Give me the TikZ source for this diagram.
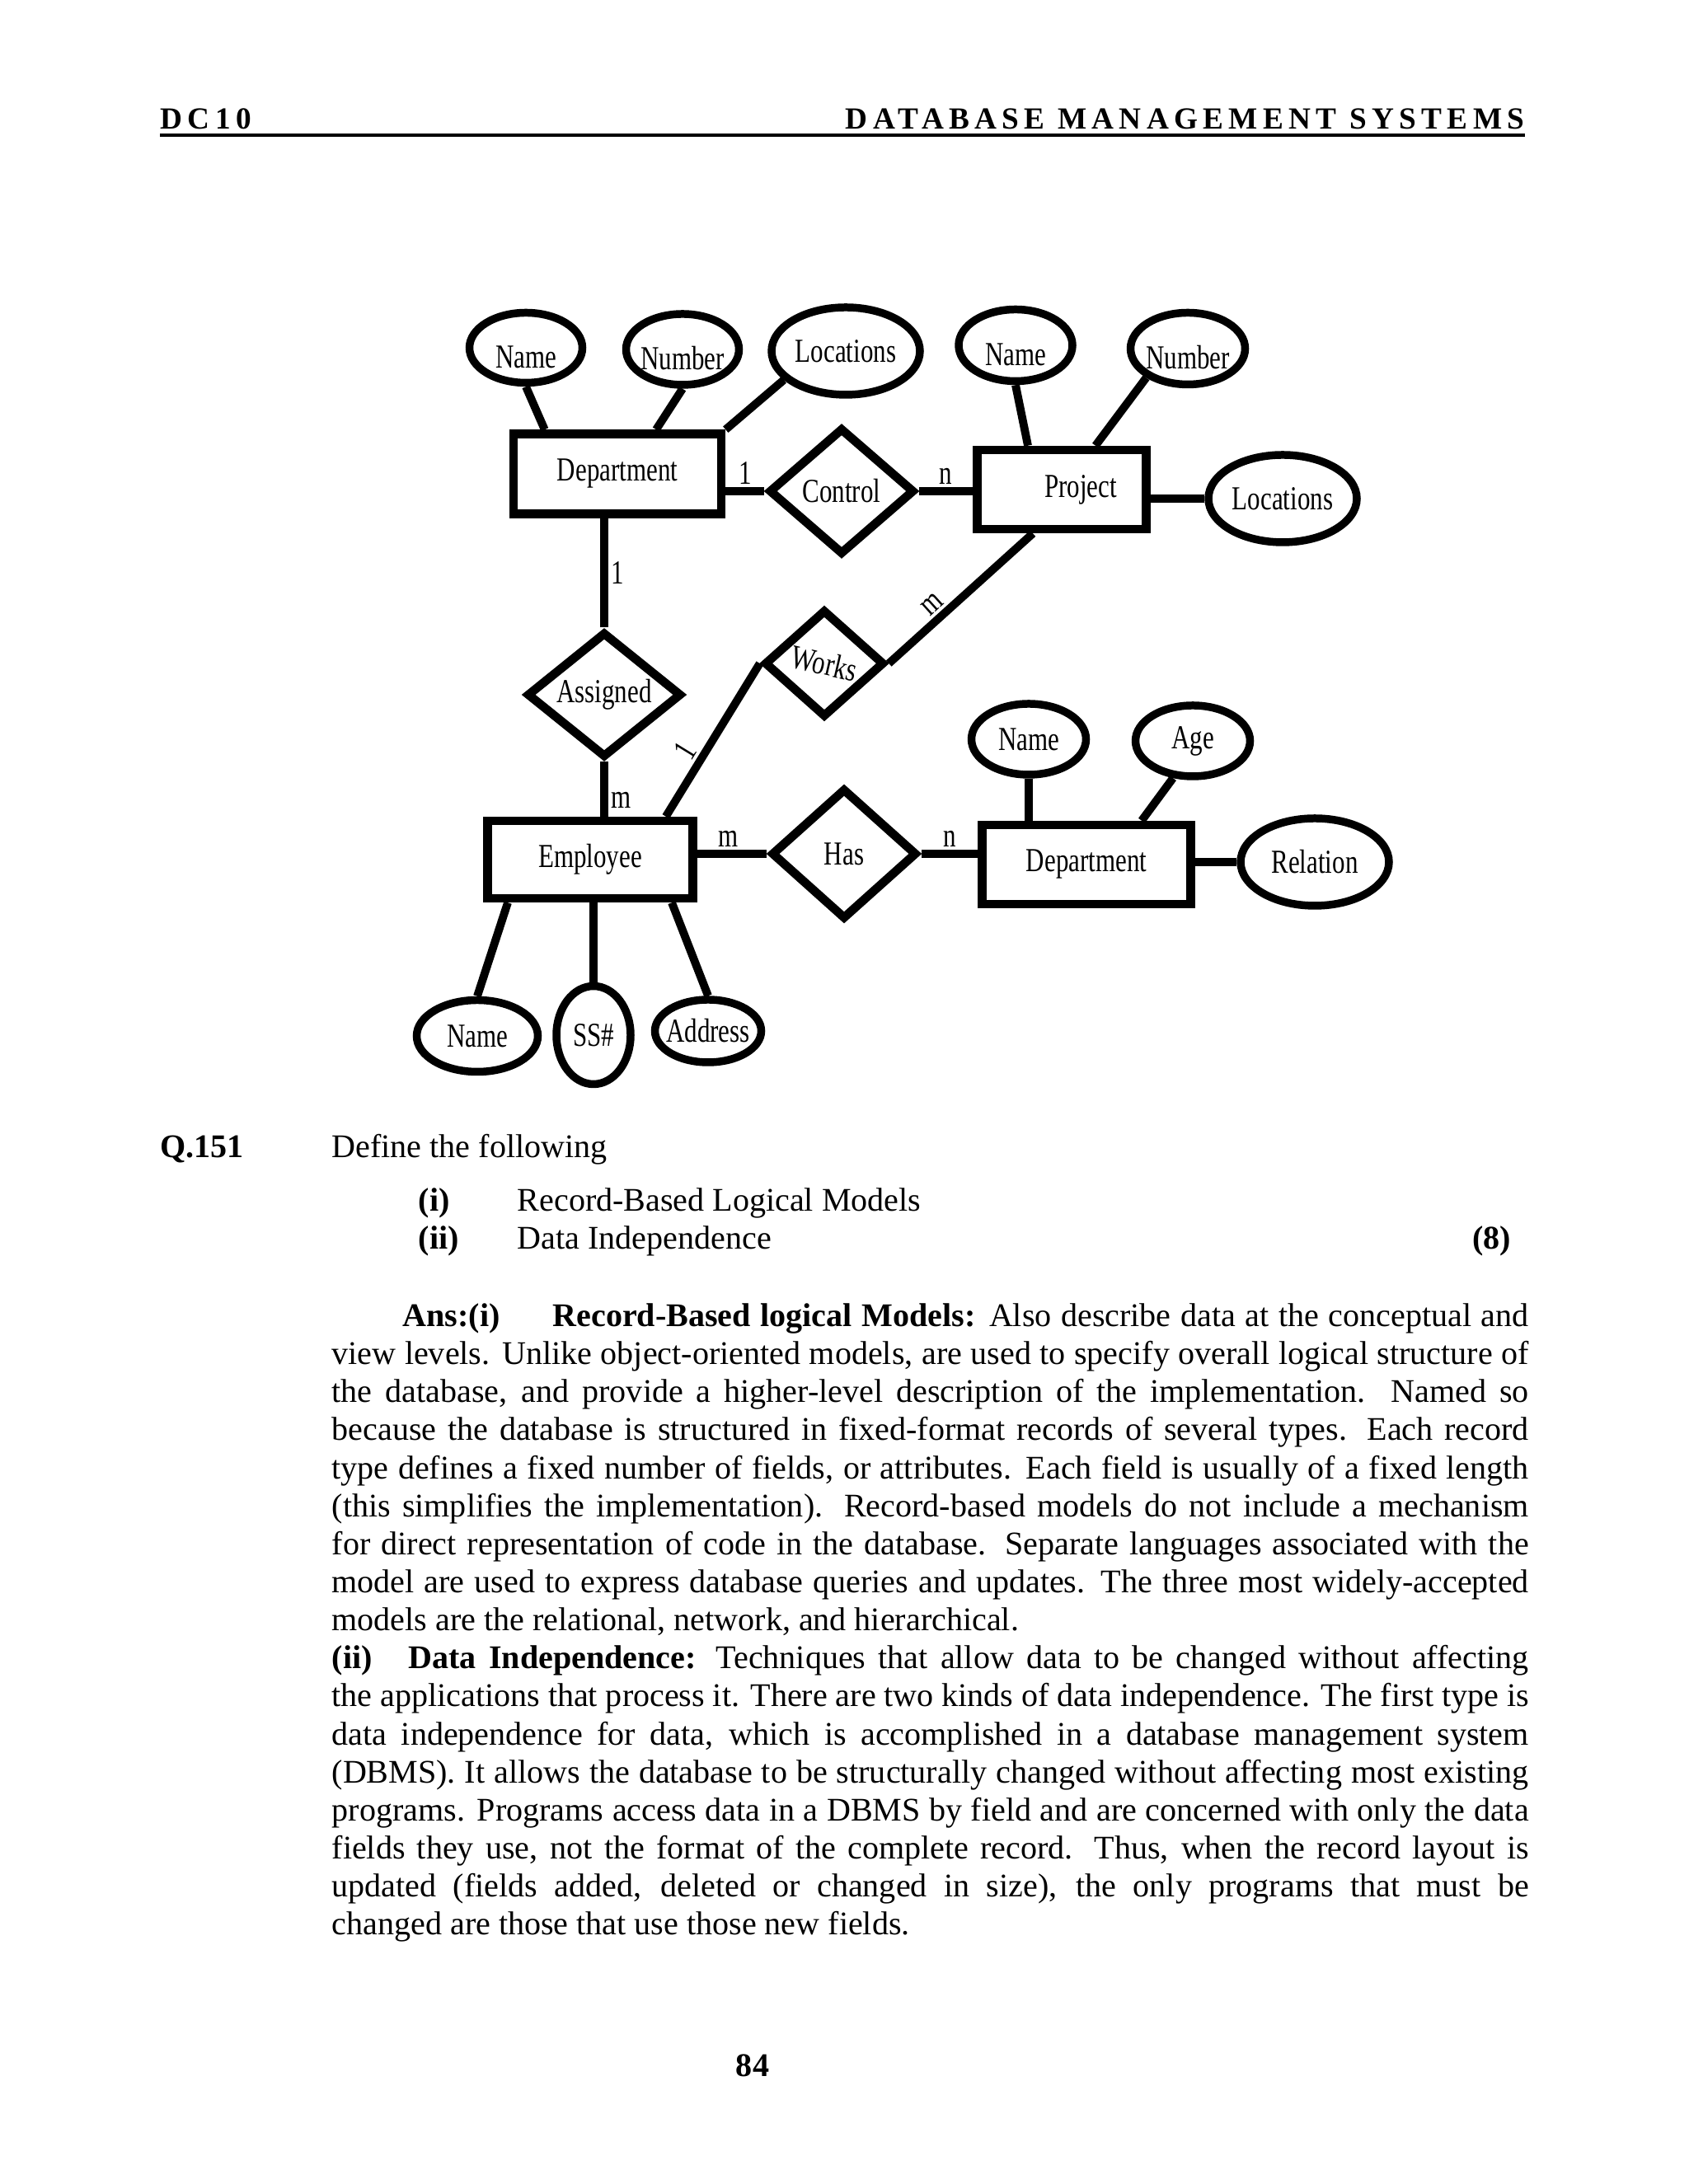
\documentclass[tikz,border=0pt]{standalone}
\usepackage{graphicx}
\usepackage{fontspec}
\setmainfont{Liberation Serif}
\newfontfamily\erfont[FakeStretch=0.76]{Liberation Serif}
\newfontfamily\headfont[LetterSpace=17]{Liberation Serif}
\usetikzlibrary{shapes.geometric,positioning}

\newlength\parwd
\setlength\parwd{14.52cm}
\newcommand\jline[1]{\hbox to\parwd{#1}}
\newcommand\lastline[1]{\hbox to\parwd{#1\hfil}}

\tikzset{
  erfont/.style={font=\erfont\fontsize{11.6}{13}\selectfont},
  entity/.style={draw,line width=3pt,inner sep=0pt,erfont},
  rel/.style={draw,diamond,line width=3pt,inner sep=0pt,erfont},
  attr/.style={draw,ellipse,line width=2.7pt,inner sep=0pt,inner xsep=-1.5mm,erfont},
  lowtext/.style={text height=5mm,text depth=0pt},
  link/.style={line width=2.8pt},
  card/.style={inner sep=1pt,erfont},
  body/.style={inner sep=0pt,font=\fontsize{11.4}{13.13}\selectfont},
  head/.style={inner sep=0pt,font=\headfont\bfseries\fontsize{10.6}{12}\selectfont},
}

\begin{document}
\begin{tikzpicture}
\fill[white] (0,0) rectangle (20.48,26.50);
\useasboundingbox (0,0) rectangle (20.48,26.50);

% page header
\node[head,anchor=base west] (hleft) at (1.94,24.93) {DC10};
\node[head,anchor=base east] (hright) at (18.50,24.93) {DATABASE MANAGEMENT SYSTEMS};
\draw[line width=1pt] (1.94,24.86) -- (18.50,24.86);

% entities
\node[entity,minimum width=2.52cm,minimum height=0.97cm] (dept) at (7.49,20.75) {Department};
\node[entity,minimum width=2.05cm,minimum height=0.96cm] (proj) at (12.88,20.56) {\hspace{4.6mm}Project};
\node[entity,minimum width=2.49cm,minimum height=0.94cm] (emp) at (7.16,16.07) {Employee};
\node[entity,minimum width=2.53cm,minimum height=0.96cm] (dept2) at (13.18,16.01) {Department};

% relationships
\node[rel,minimum width=1.77cm,minimum height=1.54cm] (ctrl) at (10.21,20.54) {Control};
\node[rel,minimum width=1.88cm,minimum height=1.50cm] (asgn) at (7.33,18.07) {Assigned};
\node[rel,minimum width=1.46cm,minimum height=1.27cm] (works) at (10.00,18.45) {\rotatebox{-13}{Works}};
\node[rel,minimum width=1.77cm,minimum height=1.59cm] (has) at (10.24,16.14) {Has};

% attributes
\node[attr,lowtext,minimum width=1.37cm,minimum height=0.85cm] (dname) at (6.38,22.28) {Name};
\node[attr,lowtext,minimum width=1.37cm,minimum height=0.86cm] (dnum) at (8.28,22.26) {Number};
\node[attr,minimum width=1.80cm,minimum height=1.06cm] (dloc) at (10.26,22.24) {Locations};
\node[attr,lowtext,minimum width=1.38cm,minimum height=0.87cm] (pname) at (12.32,22.31) {Name};
\node[attr,lowtext,minimum width=1.39cm,minimum height=0.87cm] (pnum) at (14.41,22.27) {Number};
\node[attr,minimum width=1.80cm,minimum height=1.06cm] (ploc) at (15.56,20.45) {Locations};
\node[attr,minimum width=1.39cm,minimum height=0.86cm] (d2name) at (12.48,17.53) {Name};
\node[attr,minimum width=1.39cm,minimum height=0.86cm] (d2age) at (14.47,17.51) {Age};
\node[attr,minimum width=1.80cm,minimum height=1.06cm] (d2rel) at (15.95,16.04) {Relation};
\node[attr,minimum width=1.47cm,minimum height=0.87cm] (ename) at (5.79,13.93) {Name};
\node[attr,minimum width=0.90cm,minimum height=1.19cm] (essn) at (7.20,13.94) {SS\#};
\node[attr,minimum width=1.29cm,minimum height=0.76cm] (eaddr) at (8.59,13.99) {Address};

% attribute links
\draw[link] (dname.south) -- ([xshift=4.3mm]dept.north west);
\draw[link] (dnum.south) -- ([xshift=4.7mm]dept.north);
\draw[link] (dloc.-155) -- (dept.north east);
\draw[link] (pname.south) -- ([xshift=-4.1mm]proj.north);
\draw[link] (pnum.-145) -- ([xshift=4.1mm]proj.north);
\draw[link] (ploc.west) -- (ploc.west -| proj.east);
\draw[link] (d2name.south) -- (d2name.south |- dept2.north);
\draw[link] (d2age.-118) -- ([xshift=6.7mm]dept2.north);
\draw[link] (d2rel.west) -- (d2rel.west -| dept2.east);
\draw[link] (ename.north) -- ([xshift=-10mm]emp.south);
\draw[link] (essn.north) -- (essn.north |- emp.south);
\draw[link] (eaddr.north) -- ([xshift=9.9mm]emp.south);

% relationship links
\draw[link] (ctrl.west) -- node[card,above] {1} (ctrl.west -| dept.east);
\draw[link] (ctrl.east) -- node[card,above] {n} (ctrl.east -| proj.west);
\draw[link] (asgn.north) -- node[card,right] {1} (asgn.north |- dept.south);
\draw[link] (asgn.south) -- node[card,right,pos=0.7] {m} (asgn.south |- emp.north);
\draw[link] (has.west) -- node[card,above,pos=0.55] {m} (has.west -| emp.east);
\draw[link] (has.east) -- node[card,above] {n} (has.east -| dept2.west);
\draw[link] (works.west) -- node[card,sloped,above,pos=0.63] {1} ([xshift=-3.8mm]emp.north east);
\draw[link] (works.east) -- node[card,sloped,above,pos=0.37] {m} ([xshift=-3.5mm]proj.south);

% question
\node[body,anchor=base west] (qno) at (1.94,12.45) {\textbf{Q.151}};
\node[body,anchor=base west] (qtxt) at (4.02,12.45) {Define the following};
\node[body,anchor=base west] (qi) at (5.07,11.80) {\textbf{(i)}};
\node[body,anchor=base west] (qitxt) at (6.27,11.80) {Record-Based Logical Models};
\node[body,anchor=base west] (qii) at (5.07,11.34) {\textbf{(ii)}};
\node[body,anchor=base west] (qiitxt) at (6.27,11.34) {Data Independence};
\node[body,anchor=base east] (marks) at (18.34,11.34) {\textbf{(8)}};

% answer
\node[body,anchor=north west,align=left] (ans) at (4.02,10.69) {%
\jline{\hspace{0.86cm}\textbf{Ans:(i)}\hskip0.64cm\textbf{Record-Based logical Models:} Also describe data at the conceptual and}\\
\jline{view levels. Unlike object-oriented models, are used to specify overall logical structure of}\\
\jline{the database, and provide a higher-level description of the implementation. Named so}\\
\jline{because the database is structured in fixed-format records of several types. Each record}\\
\jline{type defines a fixed number of fields, or attributes. Each field is usually of a fixed length}\\
\jline{(this simplifies the implementation). Record-based models do not include a mechanism}\\
\jline{for direct representation of code in the database. Separate languages associated with the}\\
\jline{model are used to express database queries and updates. The three most widely-accepted}\\
\lastline{models are the relational, network, and hierarchical.}\\
\jline{\textbf{(ii)}\hskip0.44cm\textbf{Data Independence:} Techniques that allow data to be changed without affecting}\\
\jline{the applications that process it. There are two kinds of data independence. The first type is}\\
\jline{data independence for data, which is accomplished in a database management system}\\
\jline{(DBMS). It allows the database to be structurally changed without affecting most existing}\\
\jline{programs. Programs access data in a DBMS by field and are concerned with only the data}\\
\jline{fields they use, not the format of the complete record. Thus, when the record layout is}\\
\jline{updated (fields added, deleted or changed in size), the only programs that must be}\\
\lastline{changed are those that use those new fields.}};

% page number
\node[body,anchor=base] (pgno) at (9.13,1.30) {\textbf{84}};
\end{tikzpicture}
\end{document}
